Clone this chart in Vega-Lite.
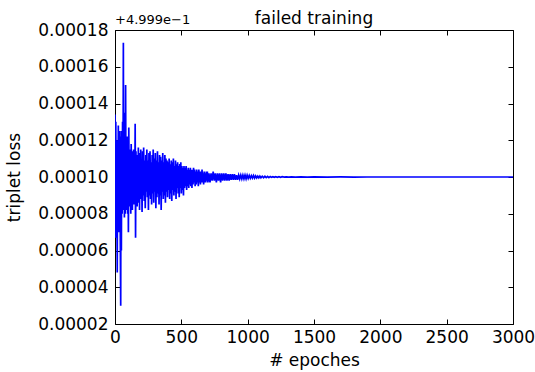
{
  "$schema": "https://vega.github.io/schema/vega-lite/v6.json",
  "width": 398,
  "height": 294,
  "autosize": {"type": "none"},
  "padding": {"left": 115, "top": 30, "right": 22, "bottom": 48},
  "background": "white",
  "config": {
    "font": "DejaVu Sans",
    "view": {"stroke": "black", "strokeWidth": 1},
    "axis": {
      "domain": false,
      "grid": false,
      "ticks": true,
      "tickColor": "black",
      "tickWidth": 1,
      "tickSize": -5,
      "labelFont": "DejaVu Sans",
      "labelFontSize": 17,
      "labelColor": "black",
      "titleFont": "DejaVu Sans",
      "titleFontSize": 17,
      "titleFontWeight": "normal",
      "titleColor": "black"
    }
  },
  "title": {
    "text": "failed training",
    "font": "DejaVu Sans",
    "fontSize": 17,
    "fontWeight": "normal",
    "color": "black",
    "anchor": "middle",
    "offset": -14
  },
  "datasets": {
    "training": [
      {"epoch": 0, "loss_offset": 134e-6},
      {"epoch": 3, "loss_offset": 67e-6},
      {"epoch": 6, "loss_offset": 130e-6},
      {"epoch": 9, "loss_offset": 72e-6},
      {"epoch": 12, "loss_offset": 120e-6},
      {"epoch": 15, "loss_offset": 75e-6},
      {"epoch": 17, "loss_offset": 48e-6},
      {"epoch": 19, "loss_offset": 118e-6},
      {"epoch": 22, "loss_offset": 78e-6},
      {"epoch": 25, "loss_offset": 128e-6},
      {"epoch": 28, "loss_offset": 70e-6},
      {"epoch": 31, "loss_offset": 120e-6},
      {"epoch": 34, "loss_offset": 75e-6},
      {"epoch": 37, "loss_offset": 125e-6},
      {"epoch": 40, "loss_offset": 65e-6},
      {"epoch": 43, "loss_offset": 30e-6},
      {"epoch": 45, "loss_offset": 122e-6},
      {"epoch": 48, "loss_offset": 60e-6},
      {"epoch": 51, "loss_offset": 125e-6},
      {"epoch": 54, "loss_offset": 80e-6},
      {"epoch": 57, "loss_offset": 130e-6},
      {"epoch": 60, "loss_offset": 82e-6},
      {"epoch": 63, "loss_offset": 173e-6},
      {"epoch": 65, "loss_offset": 85e-6},
      {"epoch": 68, "loss_offset": 135e-6},
      {"epoch": 71, "loss_offset": 78e-6},
      {"epoch": 74, "loss_offset": 118e-6},
      {"epoch": 77, "loss_offset": 80e-6},
      {"epoch": 80, "loss_offset": 150e-6},
      {"epoch": 83, "loss_offset": 82e-6},
      {"epoch": 86, "loss_offset": 120e-6},
      {"epoch": 89, "loss_offset": 85e-6},
      {"epoch": 92, "loss_offset": 122e-6},
      {"epoch": 95, "loss_offset": 80e-6},
      {"epoch": 98, "loss_offset": 115e-6},
      {"epoch": 101, "loss_offset": 70e-6},
      {"epoch": 104, "loss_offset": 127e-6},
      {"epoch": 107, "loss_offset": 88e-6},
      {"epoch": 110, "loss_offset": 115e-6},
      {"epoch": 113, "loss_offset": 84e-6},
      {"epoch": 116, "loss_offset": 112e-6},
      {"epoch": 119, "loss_offset": 80e-6},
      {"epoch": 122, "loss_offset": 118e-6},
      {"epoch": 125, "loss_offset": 86e-6},
      {"epoch": 128, "loss_offset": 114e-6},
      {"epoch": 131, "loss_offset": 82e-6},
      {"epoch": 134, "loss_offset": 112e-6},
      {"epoch": 137, "loss_offset": 90e-6},
      {"epoch": 140, "loss_offset": 115e-6},
      {"epoch": 143, "loss_offset": 85e-6},
      {"epoch": 146, "loss_offset": 110e-6},
      {"epoch": 149, "loss_offset": 88e-6},
      {"epoch": 152, "loss_offset": 129e-6},
      {"epoch": 155, "loss_offset": 67e-6},
      {"epoch": 158, "loss_offset": 114e-6},
      {"epoch": 161, "loss_offset": 88e-6},
      {"epoch": 164, "loss_offset": 110e-6},
      {"epoch": 167, "loss_offset": 84e-6},
      {"epoch": 170, "loss_offset": 112e-6},
      {"epoch": 173, "loss_offset": 90e-6},
      {"epoch": 176, "loss_offset": 116e-6},
      {"epoch": 179, "loss_offset": 86e-6},
      {"epoch": 182, "loss_offset": 110e-6},
      {"epoch": 185, "loss_offset": 82e-6},
      {"epoch": 188, "loss_offset": 113e-6},
      {"epoch": 191, "loss_offset": 91e-6},
      {"epoch": 194, "loss_offset": 115e-6},
      {"epoch": 197, "loss_offset": 88e-6},
      {"epoch": 200, "loss_offset": 108e-6},
      {"epoch": 204, "loss_offset": 81e-6},
      {"epoch": 208, "loss_offset": 114e-6},
      {"epoch": 212, "loss_offset": 90e-6},
      {"epoch": 216, "loss_offset": 116e-6},
      {"epoch": 220, "loss_offset": 87e-6},
      {"epoch": 224, "loss_offset": 109e-6},
      {"epoch": 228, "loss_offset": 83e-6},
      {"epoch": 232, "loss_offset": 112e-6},
      {"epoch": 236, "loss_offset": 92e-6},
      {"epoch": 240, "loss_offset": 115e-6},
      {"epoch": 244, "loss_offset": 89e-6},
      {"epoch": 248, "loss_offset": 109e-6},
      {"epoch": 252, "loss_offset": 82e-6},
      {"epoch": 256, "loss_offset": 113e-6},
      {"epoch": 260, "loss_offset": 90e-6},
      {"epoch": 264, "loss_offset": 114e-6},
      {"epoch": 268, "loss_offset": 88e-6},
      {"epoch": 272, "loss_offset": 108e-6},
      {"epoch": 276, "loss_offset": 85e-6},
      {"epoch": 280, "loss_offset": 112e-6},
      {"epoch": 284, "loss_offset": 91e-6},
      {"epoch": 288, "loss_offset": 115e-6},
      {"epoch": 292, "loss_offset": 86e-6},
      {"epoch": 296, "loss_offset": 110e-6},
      {"epoch": 300, "loss_offset": 92e-6},
      {"epoch": 304, "loss_offset": 113e-6},
      {"epoch": 308, "loss_offset": 83e-6},
      {"epoch": 312, "loss_offset": 109e-6},
      {"epoch": 316, "loss_offset": 89e-6},
      {"epoch": 320, "loss_offset": 114e-6},
      {"epoch": 324, "loss_offset": 91e-6},
      {"epoch": 328, "loss_offset": 108e-6},
      {"epoch": 332, "loss_offset": 85e-6},
      {"epoch": 336, "loss_offset": 112e-6},
      {"epoch": 340, "loss_offset": 90e-6},
      {"epoch": 344, "loss_offset": 111e-6},
      {"epoch": 348, "loss_offset": 82e-6},
      {"epoch": 352, "loss_offset": 109e-6},
      {"epoch": 356, "loss_offset": 92e-6},
      {"epoch": 360, "loss_offset": 113e-6},
      {"epoch": 364, "loss_offset": 88e-6},
      {"epoch": 368, "loss_offset": 108e-6},
      {"epoch": 372, "loss_offset": 90e-6},
      {"epoch": 376, "loss_offset": 112e-6},
      {"epoch": 380, "loss_offset": 86e-6},
      {"epoch": 384, "loss_offset": 110e-6},
      {"epoch": 388, "loss_offset": 92e-6},
      {"epoch": 392, "loss_offset": 109e-6},
      {"epoch": 396, "loss_offset": 89e-6},
      {"epoch": 400, "loss_offset": 108e-6},
      {"epoch": 404, "loss_offset": 93e-6},
      {"epoch": 408, "loss_offset": 110e-6},
      {"epoch": 412, "loss_offset": 88e-6},
      {"epoch": 416, "loss_offset": 107e-6},
      {"epoch": 420, "loss_offset": 91e-6},
      {"epoch": 424, "loss_offset": 109e-6},
      {"epoch": 428, "loss_offset": 87e-6},
      {"epoch": 432, "loss_offset": 108e-6},
      {"epoch": 436, "loss_offset": 93e-6},
      {"epoch": 440, "loss_offset": 110e-6},
      {"epoch": 444, "loss_offset": 90e-6},
      {"epoch": 448, "loss_offset": 106e-6},
      {"epoch": 452, "loss_offset": 92e-6},
      {"epoch": 456, "loss_offset": 109e-6},
      {"epoch": 460, "loss_offset": 88e-6},
      {"epoch": 464, "loss_offset": 107e-6},
      {"epoch": 468, "loss_offset": 94e-6},
      {"epoch": 472, "loss_offset": 108e-6},
      {"epoch": 476, "loss_offset": 91e-6},
      {"epoch": 480, "loss_offset": 106e-6},
      {"epoch": 484, "loss_offset": 89e-6},
      {"epoch": 488, "loss_offset": 107e-6},
      {"epoch": 492, "loss_offset": 94e-6},
      {"epoch": 496, "loss_offset": 108e-6},
      {"epoch": 500, "loss_offset": 91e-6},
      {"epoch": 504, "loss_offset": 106e-6},
      {"epoch": 508, "loss_offset": 93e-6},
      {"epoch": 512, "loss_offset": 105e-6},
      {"epoch": 516, "loss_offset": 90e-6},
      {"epoch": 520, "loss_offset": 106e-6},
      {"epoch": 524, "loss_offset": 94e-6},
      {"epoch": 528, "loss_offset": 105e-6},
      {"epoch": 532, "loss_offset": 95e-6},
      {"epoch": 536, "loss_offset": 106e-6},
      {"epoch": 540, "loss_offset": 93e-6},
      {"epoch": 544, "loss_offset": 104e-6},
      {"epoch": 548, "loss_offset": 95e-6},
      {"epoch": 552, "loss_offset": 105e-6},
      {"epoch": 556, "loss_offset": 94e-6},
      {"epoch": 560, "loss_offset": 104e-6},
      {"epoch": 564, "loss_offset": 96e-6},
      {"epoch": 568, "loss_offset": 105e-6},
      {"epoch": 572, "loss_offset": 95e-6},
      {"epoch": 576, "loss_offset": 104e-6},
      {"epoch": 580, "loss_offset": 94e-6},
      {"epoch": 584, "loss_offset": 104e-6},
      {"epoch": 588, "loss_offset": 96e-6},
      {"epoch": 592, "loss_offset": 105e-6},
      {"epoch": 596, "loss_offset": 97e-6},
      {"epoch": 600, "loss_offset": 104e-6},
      {"epoch": 604, "loss_offset": 95e-6},
      {"epoch": 608, "loss_offset": 103e-6},
      {"epoch": 612, "loss_offset": 96e-6},
      {"epoch": 616, "loss_offset": 104e-6},
      {"epoch": 620, "loss_offset": 97e-6},
      {"epoch": 624, "loss_offset": 103e-6},
      {"epoch": 628, "loss_offset": 95e-6},
      {"epoch": 632, "loss_offset": 104e-6},
      {"epoch": 636, "loss_offset": 97e-6},
      {"epoch": 640, "loss_offset": 103e-6},
      {"epoch": 644, "loss_offset": 96e-6},
      {"epoch": 648, "loss_offset": 103e-6},
      {"epoch": 652, "loss_offset": 97e-6},
      {"epoch": 656, "loss_offset": 104e-6},
      {"epoch": 660, "loss_offset": 97e-6},
      {"epoch": 664, "loss_offset": 102e-6},
      {"epoch": 668, "loss_offset": 96e-6},
      {"epoch": 672, "loss_offset": 103e-6},
      {"epoch": 676, "loss_offset": 97e-6},
      {"epoch": 680, "loss_offset": 102e-6},
      {"epoch": 684, "loss_offset": 97e-6},
      {"epoch": 688, "loss_offset": 103e-6},
      {"epoch": 692, "loss_offset": 98e-6},
      {"epoch": 696, "loss_offset": 103e-6},
      {"epoch": 700, "loss_offset": 97e-6},
      {"epoch": 708, "loss_offset": 102e-6},
      {"epoch": 716, "loss_offset": 97e-6},
      {"epoch": 724, "loss_offset": 102e-6},
      {"epoch": 732, "loss_offset": 98e-6},
      {"epoch": 740, "loss_offset": 103e-6},
      {"epoch": 748, "loss_offset": 98e-6},
      {"epoch": 756, "loss_offset": 102e-6},
      {"epoch": 764, "loss_offset": 97e-6},
      {"epoch": 772, "loss_offset": 102e-6},
      {"epoch": 780, "loss_offset": 98e-6},
      {"epoch": 788, "loss_offset": 102e-6},
      {"epoch": 796, "loss_offset": 97e-6},
      {"epoch": 804, "loss_offset": 102e-6},
      {"epoch": 812, "loss_offset": 98e-6},
      {"epoch": 820, "loss_offset": 102e-6},
      {"epoch": 828, "loss_offset": 98e-6},
      {"epoch": 836, "loss_offset": 102e-6},
      {"epoch": 844, "loss_offset": 98e-6},
      {"epoch": 852, "loss_offset": 101.5e-6},
      {"epoch": 860, "loss_offset": 98e-6},
      {"epoch": 868, "loss_offset": 101.5e-6},
      {"epoch": 876, "loss_offset": 98.5e-6},
      {"epoch": 884, "loss_offset": 101.5e-6},
      {"epoch": 892, "loss_offset": 98.5e-6},
      {"epoch": 900, "loss_offset": 101.5e-6},
      {"epoch": 908, "loss_offset": 98.5e-6},
      {"epoch": 916, "loss_offset": 101e-6},
      {"epoch": 924, "loss_offset": 98.5e-6},
      {"epoch": 932, "loss_offset": 101e-6},
      {"epoch": 940, "loss_offset": 99e-6},
      {"epoch": 948, "loss_offset": 101e-6},
      {"epoch": 956, "loss_offset": 99e-6},
      {"epoch": 964, "loss_offset": 101e-6},
      {"epoch": 972, "loss_offset": 99e-6},
      {"epoch": 980, "loss_offset": 101e-6},
      {"epoch": 988, "loss_offset": 99e-6},
      {"epoch": 996, "loss_offset": 101e-6},
      {"epoch": 1004, "loss_offset": 99.2e-6},
      {"epoch": 1012, "loss_offset": 100.8e-6},
      {"epoch": 1020, "loss_offset": 99.3e-6},
      {"epoch": 1028, "loss_offset": 100.7e-6},
      {"epoch": 1036, "loss_offset": 99.4e-6},
      {"epoch": 1044, "loss_offset": 100.8e-6},
      {"epoch": 1052, "loss_offset": 99.4e-6},
      {"epoch": 1060, "loss_offset": 100.6e-6},
      {"epoch": 1068, "loss_offset": 99.5e-6},
      {"epoch": 1076, "loss_offset": 100.5e-6},
      {"epoch": 1084, "loss_offset": 99.5e-6},
      {"epoch": 1092, "loss_offset": 100.5e-6},
      {"epoch": 1100, "loss_offset": 99.6e-6},
      {"epoch": 1110, "loss_offset": 100.4e-6},
      {"epoch": 1120, "loss_offset": 99.6e-6},
      {"epoch": 1130, "loss_offset": 100.4e-6},
      {"epoch": 1140, "loss_offset": 99.7e-6},
      {"epoch": 1150, "loss_offset": 100.3e-6},
      {"epoch": 1160, "loss_offset": 99.7e-6},
      {"epoch": 1170, "loss_offset": 100.3e-6},
      {"epoch": 1180, "loss_offset": 99.8e-6},
      {"epoch": 1190, "loss_offset": 100.2e-6},
      {"epoch": 1200, "loss_offset": 99.8e-6},
      {"epoch": 1212, "loss_offset": 100.2e-6},
      {"epoch": 1224, "loss_offset": 99.85e-6},
      {"epoch": 1236, "loss_offset": 100.15e-6},
      {"epoch": 1248, "loss_offset": 99.85e-6},
      {"epoch": 1260, "loss_offset": 100.15e-6},
      {"epoch": 1275, "loss_offset": 99.9e-6},
      {"epoch": 1290, "loss_offset": 100.1e-6},
      {"epoch": 1310, "loss_offset": 99.9e-6},
      {"epoch": 1330, "loss_offset": 100.1e-6},
      {"epoch": 1360, "loss_offset": 99.92e-6},
      {"epoch": 1400, "loss_offset": 100.08e-6},
      {"epoch": 1450, "loss_offset": 99.94e-6},
      {"epoch": 1500, "loss_offset": 100.06e-6},
      {"epoch": 1600, "loss_offset": 99.96e-6},
      {"epoch": 1700, "loss_offset": 100.04e-6},
      {"epoch": 1800, "loss_offset": 99.98e-6},
      {"epoch": 1900, "loss_offset": 100e-6},
      {"epoch": 3000, "loss_offset": 100e-6}
    ],
    "offset_note": [
      {"epoch": 0, "loss_offset": 0.00018, "note": "+4.999e\u22121"}
    ]
  },
  "data": {"name": "training"},
  "resolve": {"axis": {"x": "independent", "y": "independent"}},
  "layer": [
    {
      "mark": {"type": "line", "color": "#0000ff", "strokeWidth": 1.7, "clip": true},
      "encoding": {
        "x": {
          "field": "epoch",
          "type": "quantitative",
          "scale": {"domain": [0, 3000], "nice": false, "zero": false},
          "axis": {
            "orient": "bottom",
            "title": "# epoches",
            "values": [0, 500, 1000, 1500, 2000, 2500, 3000],
            "format": "d",
            "labelPadding": 10,
            "labelFlush": false,
            "titlePadding": 7
          }
        },
        "y": {
          "field": "loss_offset",
          "type": "quantitative",
          "scale": {"domain": [0.00002, 0.00018], "nice": false, "zero": false},
          "axis": {
            "orient": "left",
            "title": "triplet loss",
            "values": [0.00002, 0.00004, 0.00006, 0.00008, 0.0001, 0.00012, 0.00014, 0.00016, 0.00018],
            "format": ".5f",
            "labelPadding": 12,
            "labelFlush": false,
            "titlePadding": 14
          }
        }
      }
    },
    {
      "mark": {"type": "line", "opacity": 0},
      "encoding": {
        "x": {
          "field": "epoch",
          "type": "quantitative",
          "axis": {
            "orient": "top",
            "title": null,
            "labels": false,
            "values": [0, 500, 1000, 1500, 2000, 2500, 3000]
          }
        },
        "y": {
          "field": "loss_offset",
          "type": "quantitative",
          "axis": {
            "orient": "right",
            "title": null,
            "labels": false,
            "values": [0.00002, 0.00004, 0.00006, 0.00008, 0.0001, 0.00012, 0.00014, 0.00016, 0.00018]
          }
        }
      }
    },
    {
      "data": {"name": "offset_note"},
      "mark": {"type": "text", "align": "left", "baseline": "bottom", "dy": -3, "fontSize": 13, "font": "DejaVu Sans", "color": "black"},
      "encoding": {
        "x": {"field": "epoch", "type": "quantitative", "axis": null},
        "y": {"field": "loss_offset", "type": "quantitative", "axis": null},
        "text": {"field": "note"}
      }
    }
  ]
}
